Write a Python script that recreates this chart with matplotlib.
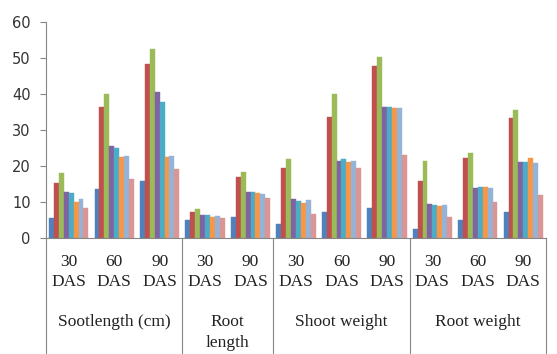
import matplotlib
matplotlib.use("Agg")
import matplotlib.pyplot as plt
import matplotlib.transforms as mtransforms
import numpy as np

sub_labels = ["30\nDAS", "60\nDAS", "90\nDAS", "30\nDAS", "90\nDAS",
              "30\nDAS", "60\nDAS", "90\nDAS", "30\nDAS", "60\nDAS", "90\nDAS"]
group_labels = ["Sootlength (cm)", "Root\nlength", "Shoot weight", "Root weight"]
group_sizes = [3, 2, 3, 3]

s1 = [5.3, 13.5, 15.7, 4.9, 5.8, 3.8, 7.2, 8.3, 2.4, 5.0, 7.0]
s2 = [15.2, 36.3, 48.2, 7.0, 16.7, 19.2, 33.4, 47.7, 15.7, 22.0, 33.1]
s3 = [18.0, 40.0, 52.5, 7.8, 18.1, 21.9, 39.9, 50.2, 21.3, 23.6, 35.4]
s4 = [12.7, 25.5, 40.5, 6.3, 12.7, 10.8, 21.3, 36.3, 9.3, 13.8, 20.9]
s5 = [12.3, 24.9, 37.7, 6.3, 12.7, 10.2, 21.8, 36.3, 9.0, 14.1, 20.9]
s6 = [10.0, 22.4, 22.3, 5.8, 12.5, 9.5, 20.9, 36.0, 8.8, 14.0, 22.0]
s7 = [10.6, 22.7, 22.7, 6.0, 12.0, 10.4, 21.4, 35.9, 9.1, 13.8, 20.6]
s8 = [8.1, 16.3, 19.0, 5.5, 11.1, 6.4, 19.2, 22.8, 5.6, 10.0, 11.8]
series = [s1, s2, s3, s4, s5, s6, s7, s8]
colors = ["#4F81BD", "#C0504D", "#9BBB59", "#8064A2", "#4BACC6", "#F79646",
          "#95B3D7", "#D99694"]

fig = plt.figure(figsize=(5.57, 3.54), dpi=100)
ax = fig.add_axes([46/557, 1-237.5/354, 500/557, (237.5-21.7)/354])

n = len(sub_labels)
x = np.arange(n)
nb = len(series)
w = 0.108
for i, (vals, c) in enumerate(zip(series, colors)):
    ax.bar(x + (i - (nb-1)/2) * w, vals, width=w, color=c,
           edgecolor=c, linewidth=0.3, zorder=2)

ax.set_xlim(-0.5, n - 0.5)
ax.set_ylim(0, 60)
ax.set_yticks(range(0, 61, 10))
ax.tick_params(axis='y', length=4, color='#868686', labelsize=10.5,
               labelcolor='#333333', pad=7)
ax.set_xticks([])
for s in ["top", "right"]:
    ax.spines[s].set_visible(False)
for s in ["left", "bottom"]:
    ax.spines[s].set_color('#868686')
    ax.spines[s].set_linewidth(0.8)

trans = mtransforms.blended_transform_factory(ax.transData, fig.transFigure)
fs = 12.5
for xi, lab in zip(x, sub_labels):
    top, bot = lab.split("\n")
    ax.text(xi, 1-261.7/354, top, transform=trans, ha='center', va='center',
            family='Liberation Serif', fontsize=fs, color='#222222')
    ax.text(xi, 1-281.7/354, bot, transform=trans, ha='center', va='center',
            family='Liberation Serif', fontsize=fs, color='#222222')

start = 0
bounds = [-0.5]
for g, sz in zip(group_labels, group_sizes):
    center = start + (sz - 1) / 2
    lines = g.split("\n")
    for k, ln in enumerate(lines):
        ax.text(center, 1-(322 + 21*k)/354, ln, transform=trans, ha='center',
                va='center', family='Liberation Serif', fontsize=fs,
                color='#222222')
    start += sz
    bounds.append(start - 0.5)

for b in bounds:
    ax.plot([b, b], [1-237.5/354, 0], transform=trans, color='#868686',
            linewidth=0.8, clip_on=False)

fig.savefig("out.png", dpi=100)
